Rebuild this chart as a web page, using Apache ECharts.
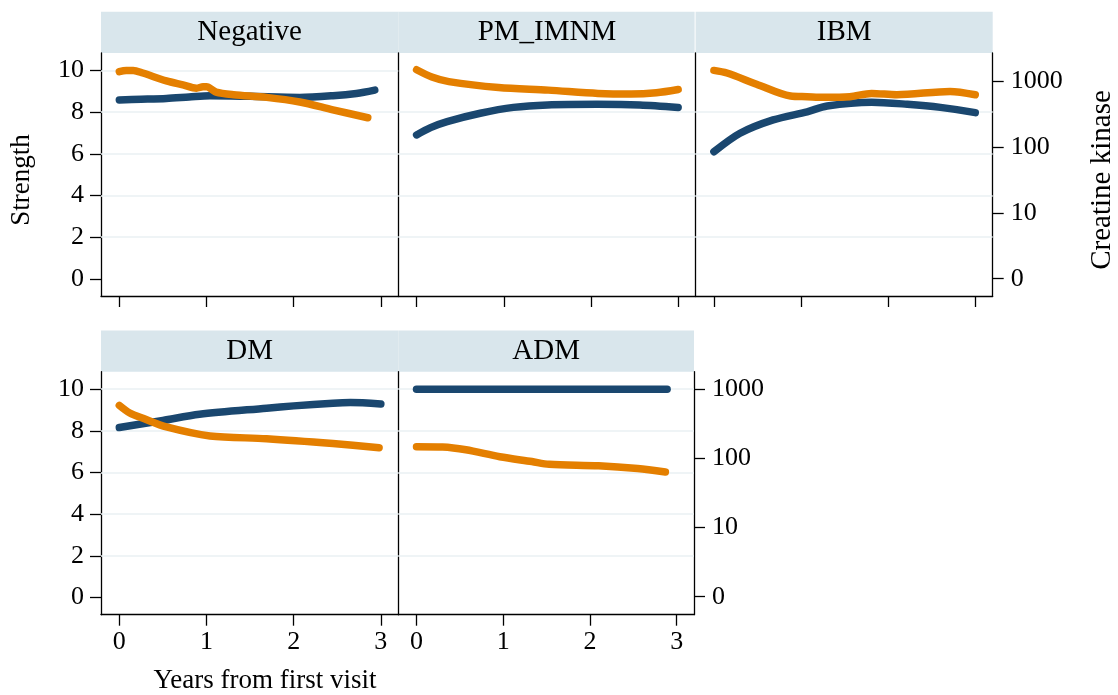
<!DOCTYPE html>
<html>
<head>
<meta charset="utf-8">
<script src="https://cdn.jsdelivr.net/npm/echarts@6/dist/echarts.min.js"></script>
<style>
  html, body { margin: 0; padding: 0; background: #ffffff; }
  #chart { width: 1118px; height: 695px; }
</style>
</head>
<body>
<div id="chart"></div>
<script>
// ---- Data -------------------------------------------------------------
const panelNames = ['Negative', 'PM_IMNM', 'IBM', 'DM', 'ADM'];

const yearTicks = [0, 1, 2, 3];
const strengthTicks = [0, 2, 4, 6, 8, 10];
const ckTicks = [0, 1, 2, 3];                 // log10 scale positions
const ckTickLabels = ['0', '10', '100', '1000'];

// Strength over time (left axis)
const negStrengthYears = [0, 0.25, 0.54, 0.8, 1.04, 1.5, 2.07, 2.45, 2.72, 2.93];
const negStrength      = [8.59, 8.62, 8.66, 8.73, 8.79, 8.76, 8.71, 8.79, 8.90, 9.06];
const pmStrengthYears  = [0, 0.16, 0.35, 0.73, 1.11, 1.5, 2.07, 2.56, 3.0];
const pmStrength       = [6.91, 7.26, 7.55, 7.95, 8.23, 8.35, 8.38, 8.35, 8.23];
const ibmStrengthYears = [0, 0.30, 0.68, 1.07, 1.30, 1.81, 2.22, 2.6, 3.0];
const ibmStrength      = [6.10, 6.99, 7.63, 8.02, 8.30, 8.48, 8.38, 8.23, 7.98];
const dmStrengthYears  = [0, 0.5, 0.92, 1.69, 2.0, 2.45, 2.65, 3.0];
const dmStrength       = [8.16, 8.5, 8.80, 9.09, 9.2, 9.33, 9.36, 9.29];
const admStrengthYears = [0, 1, 2, 2.89];
const admStrength      = [10, 10, 10, 10];

// Creatine kinase over time, log10 units (right axis)
const negCkYears = [0, 0.08, 0.16, 0.27, 0.54, 0.73, 0.885, 0.96, 1.0, 1.11, 1.31, 1.69, 2.07, 2.45, 2.85];
const negCkLog   = [3.15, 3.17, 3.17, 3.13, 3.01, 2.95, 2.90, 2.92, 2.92, 2.84, 2.80, 2.76, 2.69, 2.57, 2.45];
const pmCkYears  = [0, 0.175, 0.37, 0.94, 1.51, 2.08, 2.46, 2.75, 3.0];
const pmCkLog    = [3.18, 3.07, 3.0, 2.91, 2.87, 2.82, 2.81, 2.83, 2.88];
const ibmCkYears = [0, 0.15, 0.49, 0.88, 1.07, 1.26, 1.56, 1.81, 2.10, 2.71, 3.0];
const ibmCkLog   = [3.17, 3.13, 2.96, 2.78, 2.77, 2.76, 2.77, 2.82, 2.80, 2.85, 2.80];
const dmCkYears  = [0, 0.12, 0.28, 0.54, 1.04, 1.69, 2.45, 2.98];
const dmCkLog    = [2.76, 2.65, 2.57, 2.45, 2.32, 2.28, 2.21, 2.15];
const admCkYears = [0, 0.3, 0.57, 0.96, 1.33, 1.53, 2.10, 2.55, 2.87];
const admCkLog   = [2.165, 2.16, 2.12, 2.02, 1.95, 1.91, 1.89, 1.85, 1.80];

// Horizontal reference lines drawn in each panel
const gridValuesFull = [2, 4, 6, 8, 10];
const gridValuesShort = [2, 4, 6, 8];

// ---- Layout and style -----------------------------------------------
const FONT = '"Liberation Serif", "Times New Roman", serif';
const NAVY = '#1a476f';
const ORANGE = '#e47f00';
const STRIP = '#d9e6ec';
const GRIDLINE = '#eaf1f3';

const panels = [
  { left: 101,   top: 53,    width: 297.3, height: 243, stripGap: 0, bottomRow: false, leftLabels: true,  rightAxis: false, ckRange: [-0.263, 3.435], grid: gridValuesFull,  str: [negStrengthYears, negStrength], ck: [negCkYears, negCkLog] },
  { left: 398.3, top: 53,    width: 297.3, height: 243, stripGap: 1, bottomRow: false, leftLabels: false, rightAxis: false, ckRange: [-0.263, 3.435], grid: gridValuesShort, str: [pmStrengthYears, pmStrength],   ck: [pmCkYears, pmCkLog] },
  { left: 695.6, top: 53,    width: 297.1, height: 243, stripGap: 0, bottomRow: false, leftLabels: false, rightAxis: true,  ckRange: [-0.263, 3.435], grid: gridValuesShort, str: [ibmStrengthYears, ibmStrength], ck: [ibmCkYears, ibmCkLog] },
  { left: 101,   top: 371.7, width: 297.3, height: 243, stripGap: 0, bottomRow: true,  leftLabels: true,  rightAxis: false, ckRange: [-0.26, 3.247],  grid: gridValuesFull,  str: [dmStrengthYears, dmStrength],   ck: [dmCkYears, dmCkLog] },
  { left: 398.3, top: 371.7, width: 295.7, height: 243, stripGap: 0, bottomRow: true,  leftLabels: false, rightAxis: true,  ckRange: [-0.26, 3.247],  grid: gridValuesFull,  str: [admStrengthYears, admStrength], ck: [admCkYears, admCkLog] }
];

const axisLine = { show: true, onZero: false, lineStyle: { color: '#000', width: 1.3 } };
const tickStyle = { color: '#000', width: 1.3 };

const pairs = (xs, ys) => xs.map((x, i) => [x, ys[i]]);

const grids = [], xAxes = [], yAxes = [], series = [], graphics = [];

panels.forEach((p, i) => {
  grids.push({ left: p.left, top: p.top, width: p.width, height: p.height, containLabel: false });

  xAxes.push({
    type: 'value', gridIndex: i, position: 'bottom', min: -0.21, max: 3.2,
    axisLine: axisLine,
    axisTick: { show: true, inside: false, length: 11, customValues: yearTicks, lineStyle: tickStyle },
    axisLabel: { show: p.bottomRow, customValues: yearTicks, margin: 14, fontFamily: FONT, fontSize: 26, color: '#000' },
    splitLine: { show: false }
  });

  // left axis: strength
  yAxes.push({
    type: 'value', gridIndex: i, position: 'left', min: -0.82, max: 10.84,
    axisLine: axisLine,
    axisTick: { show: p.leftLabels, length: 11, customValues: strengthTicks, lineStyle: tickStyle },
    axisLabel: { show: p.leftLabels, customValues: strengthTicks, margin: 17, fontFamily: FONT, fontSize: 26, color: '#000' },
    splitLine: { show: false }
  });
});

panels.forEach((p, i) => {
  // right axis: creatine kinase (log10)
  yAxes.push({
    type: 'value', gridIndex: i, position: 'right', min: p.ckRange[0], max: p.ckRange[1],
    show: p.rightAxis,
    axisLine: axisLine,
    axisTick: { show: true, length: 11, customValues: ckTicks, lineStyle: tickStyle },
    axisLabel: {
      show: true, customValues: ckTicks, margin: 18, fontFamily: FONT, fontSize: 26, color: '#000',
      formatter: v => ckTickLabels[ckTicks.indexOf(Math.round(v))]
    },
    splitLine: { show: false }
  });
});

panels.forEach((p, i) => {
  series.push({
    type: 'line', xAxisIndex: i, yAxisIndex: i, z: 3,
    data: pairs(p.str[0], p.str[1]),
    showSymbol: false, smooth: 0.3,
    lineStyle: { color: NAVY, width: 7.5, cap: 'round', join: 'round' },
    markLine: {
      silent: true, z: 1, symbol: ['none', 'none'],
      label: { show: false },
      lineStyle: { color: GRIDLINE, width: 1.6, type: 'solid' },
      data: p.grid.map(v => ({ yAxis: v }))
    }
  });
  series.push({
    type: 'line', xAxisIndex: i, yAxisIndex: panels.length + i, z: 4,
    data: pairs(p.ck[0], p.ck[1]),
    showSymbol: false, smooth: 0.3,
    lineStyle: { color: ORANGE, width: 7.5, cap: 'round', join: 'round' }
  });

  // panel header strip
  const stripTop = p.top - 41.3;
  graphics.push({
    type: 'rect', silent: true,
    shape: { x: p.left, y: stripTop, width: p.width - p.stripGap, height: 41.3 },
    style: { fill: STRIP }
  });
  graphics.push({
    type: 'text', silent: true,
    x: p.left + p.width / 2, y: stripTop + 20.5,
    style: { text: panelNames[i], font: '29px ' + FONT, fill: '#000',
             textAlign: 'center', textVerticalAlign: 'middle', align: 'center', verticalAlign: 'middle' }
  });
});

// axis titles
graphics.push({
  type: 'text', silent: true, x: 22, y: 180, rotation: Math.PI / 2,
  style: { text: 'Strength', font: '27px ' + FONT, fill: '#000',
           textAlign: 'center', textVerticalAlign: 'middle', align: 'center', verticalAlign: 'middle' }
});
graphics.push({
  type: 'text', silent: true, x: 1102, y: 180, rotation: Math.PI / 2,
  style: { text: 'Creatine kinase', font: '29px ' + FONT, fill: '#000',
           textAlign: 'center', textVerticalAlign: 'middle', align: 'center', verticalAlign: 'middle' }
});
graphics.push({
  type: 'text', silent: true, x: 265, y: 681,
  style: { text: 'Years from first visit', font: '27px ' + FONT, fill: '#000',
           textAlign: 'center', textVerticalAlign: 'middle', align: 'center', verticalAlign: 'middle' }
});

const chart = echarts.init(document.getElementById('chart'), null, { renderer: 'canvas' });
chart.setOption({
  animation: false,
  backgroundColor: '#ffffff',
  grid: grids,
  xAxis: xAxes,
  yAxis: yAxes,
  series: series,
  graphic: graphics
});
</script>
</body>
</html>
